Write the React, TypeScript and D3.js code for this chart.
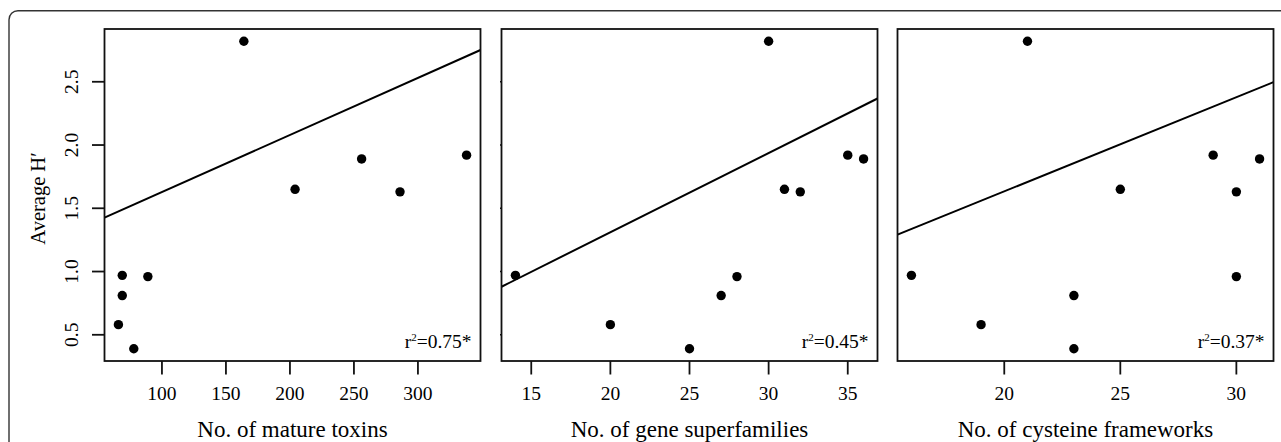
import React from "react";
import * as d3 from "d3";

// Shared response values (Average H') for the ten taxa
const averageH = [2.82, 1.65, 1.89, 1.63, 1.92, 0.97, 0.96, 0.81, 0.58, 0.39];
// Predictors, same order as averageH
const matureToxins = [164, 204, 256, 286, 338, 69, 89, 69, 66, 78];
const geneSuperfamilies = [30, 31, 36, 32, 35, 14, 28, 27, 20, 25];
const cysteineFrameworks = [21, 25, 31, 30, 29, 16, 30, 23, 19, 23];

const xTitles = ["No. of mature toxins", "No. of gene superfamilies", "No. of cysteine frameworks"];
const rSquaredLabels = ["0.75*", "0.45*", "0.37*"];
const regIntercepts = [1.177, 0.058, 0.145];
const regSlopes = [0.004512, 0.06263, 0.07444];
const xTickValues = [
  [100, 150, 200, 250, 300],
  [15, 20, 25, 30, 35],
  [20, 25, 30],
];
const yTickValues = [0.5, 1.0, 1.5, 2.0, 2.5];
const yTitle = "Average H\u2032";

const W = 1281;
const H = 442;
const FONT = "'Liberation Serif', 'Times New Roman', serif";

const panelLefts = [104.5, 501.5, 897.5];
const panelWidth = 376;
const plotTop = 29;
const plotBottom = 361;

function padDomain(vals: number[]): [number, number] {
  const [lo, hi] = d3.extent(vals) as [number, number];
  const p = (hi - lo) * 0.04;
  return [lo - p, hi + p];
}

const predictors = [matureToxins, geneSuperfamilies, cysteineFrameworks];

export default function App() {
  const y = d3.scaleLinear().domain(padDomain(averageH)).range([plotBottom, plotTop]);

  return (
    <svg
      width={W}
      height={H}
      style={{ position: "absolute", left: 0, top: 0, background: "#fff" }}
      fontFamily={FONT}
    >
      <rect x={0} y={0} width={W} height={H} fill="#fff" />
      <rect x={9} y={10.7} width={1400} height={600} rx={9} ry={9} fill="none" stroke="#333" strokeWidth={1.4} />
      <defs>
        {predictors.map((_, i) => (
          <clipPath id={`clip${i}`} key={i}>
            <rect x={panelLefts[i]} y={plotTop} width={panelWidth} height={plotBottom - plotTop} />
          </clipPath>
        ))}
      </defs>
      {predictors.map((xs, i) => {
        const left = panelLefts[i];
        const right = left + panelWidth;
        const dom = padDomain(xs);
        const x = d3.scaleLinear().domain(dom).range([left, right]);
        const line = d3
          .line<number>()
          .x((d) => x(d))
          .y((d) => y(regIntercepts[i] + regSlopes[i] * d));
        const cx = (left + right) / 2;
        return (
          <g key={i}>
            {/* regression line */}
            <path d={line(dom) || ""} stroke="#000" strokeWidth={2} fill="none" clipPath={`url(#clip${i})`} />
            {/* points */}
            {xs.map((v, j) => (
              <circle key={j} cx={x(v)} cy={y(averageH[j])} r={4.7} fill="#000" />
            ))}
            {/* frame */}
            <rect x={left} y={plotTop} width={panelWidth} height={plotBottom - plotTop} fill="none" stroke="#111" strokeWidth={1.8} />
            {/* x ticks */}
            {xTickValues[i].map((t) => (
              <g key={t}>
                <line x1={x(t)} x2={x(t)} y1={plotBottom} y2={plotBottom + 13.5} stroke="#111" strokeWidth={1.8} />
                <text x={x(t)} y={400} textAnchor="middle" fontSize={19.5} fill="#000">
                  {t}
                </text>
              </g>
            ))}
            {/* y ticks */}
            {i === 0 &&
              yTickValues.map((t) => (
                <g key={t}>
                  <line x1={left - 12.5} x2={left} y1={y(t)} y2={y(t)} stroke="#111" strokeWidth={1.8} />
                  <text
                    transform={`translate(${78.3},${y(t)}) rotate(-90)`}
                    textAnchor="middle"
                    fontSize={19.5}
                    fill="#000"
                  >
                    {t.toFixed(1)}
                  </text>
                </g>
              ))}
            {i === 1 &&
              yTickValues.map((t) => (
                <line key={t} x1={left - 1.5} x2={left} y1={y(t)} y2={y(t)} stroke="#111" strokeWidth={1.5} />
              ))}
            {/* r squared */}
            <text x={right - 9} y={347.5} textAnchor="end" fontSize={19.5} fill="#000">
              r<tspan fontSize={11} dy={-7}>2</tspan>
              <tspan dy={7}>={rSquaredLabels[i]}</tspan>
            </text>
            {/* x title */}
            <text x={cx} y={436.5} textAnchor="middle" fontSize={23} fill="#000">
              {xTitles[i]}
            </text>
          </g>
        );
      })}
      <text transform={`translate(45,${198.5}) rotate(-90)`} textAnchor="middle" fontSize={20.5} fill="#000">
        {yTitle}
      </text>
    </svg>
  );
}
